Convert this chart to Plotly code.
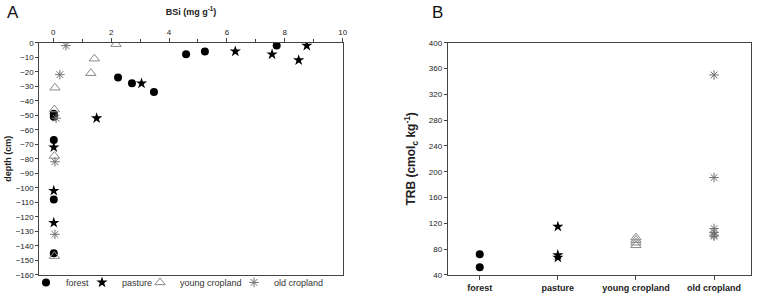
import plotly.graph_objects as go

# ---------------- Panel A data: BSi (mg g-1) vs depth (cm) ----------------
forest_bsi = [7.72, 5.24, 4.59, 2.24, 2.72, 3.48, 0.02, 0.02, 0.02, 0.02, 0.02]
forest_depth = [-2, -6, -8, -24, -28, -34, -49, -51, -67, -108, -145]

pasture_bsi = [8.76, 6.29, 7.56, 8.48, 3.05, 1.50, 0.02, 0.02, 0.02]
pasture_depth = [-2, -6, -8, -12, -28, -52, -72, -102, -124]

young_bsi = [2.17, 1.42, 1.30, 0.06, 0.04, 0.04, 0.04]
young_depth = [-1, -11, -21, -31, -46, -78, -147]

old_bsi = [0.44, 0.23, 0.10, 0.06, 0.06]
old_depth = [-2, -22, -52, -82, -132]

# ---------------- Panel B data: TRB (cmolc kg-1) ----------------
categories = ["forest", "pasture", "young cropland", "old cropland"]
trb_forest = [72, 52]
trb_pasture = [115, 71, 67]
trb_young = [86, 90, 94, 98]
trb_old = [350, 191, 112, 106, 102, 100]

x_ticks_a = [0, 2, 4, 6, 8, 10]
y_ticks_a = list(range(-160, 1, 10))
y_ticks_b = list(range(40, 401, 40))

BLACK = "#000000"
GRAY_TRI = "#8a8a8a"
GRAY_AST = "#707070"
AXIS = "#444444"
TICKFONT = dict(family="Liberation Sans, Arial", size=8, color="#222222")

fig = go.Figure()

styles = [
    ("forest", forest_bsi, forest_depth, trb_forest, dict(symbol="circle", size=8, color=BLACK)),
    ("pasture", pasture_bsi, pasture_depth, trb_pasture, dict(symbol="star", size=8.5, color=BLACK)),
    ("young cropland", young_bsi, young_depth, trb_young,
     dict(symbol="triangle-up-open", size=9, color=GRAY_TRI, line=dict(width=1, color=GRAY_TRI))),
    ("old cropland", old_bsi, old_depth, trb_old,
     dict(symbol="asterisk-open", size=8, color=GRAY_AST, line=dict(width=1, color=GRAY_AST))),
]
legend_ids = ["legend", "legend2", "legend3", "legend4"]

for i, (name, xs, ys, trb, mk) in enumerate(styles):
    fig.add_trace(go.Scatter(x=xs, y=ys, mode="markers", name=name, marker=mk,
                             xaxis="x", yaxis="y", showlegend=True, legend=legend_ids[i]))
for i, (name, xs, ys, trb, mk) in enumerate(styles):
    fig.add_trace(go.Scatter(x=[categories[i]] * len(trb), y=trb, mode="markers", name=name,
                             marker=mk, xaxis="x2", yaxis="y2", showlegend=False))

legend_x = [26 / 759, 82 / 759, 140 / 759, 234 / 759]
legend_common = dict(orientation="h", xanchor="left", y=0.098, yanchor="top",
                     font=dict(size=9, color="#333333"), itemwidth=30,
                     bgcolor="rgba(0,0,0,0)")

fig.update_layout(
    template="none",
    width=759, height=297,
    margin=dict(l=0, r=0, t=0, b=0),
    paper_bgcolor="white", plot_bgcolor="white",
    font=dict(family="Liberation Sans, Arial", color="#222222"),
    xaxis=dict(domain=[0.0518, 0.4515], range=[-0.48, 10], side="top", anchor="y", automargin=False,
               tickvals=x_ticks_a, ticks="outside", ticklen=4, tickcolor=AXIS,
               showline=True, linecolor=AXIS, linewidth=1, mirror=True,
               showgrid=False, zeroline=False, tickfont=TICKFONT,
               tickprefix="<b>", ticksuffix="</b>",
               minor=dict(dtick=1, tick0=0, ticks="outside", ticklen=3, tickcolor=AXIS, showgrid=False),
               title=dict(text="<b>BSi (mg g<sup>-1</sup>)</b>", font=dict(size=9), standoff=10)),
    yaxis=dict(domain=[0.0741, 0.8562], range=[-160, 0], anchor="x", automargin=False,
               tickvals=y_ticks_a, ticks="outside", ticklen=3, tickcolor=AXIS,
               showline=True, linecolor=AXIS, linewidth=1, mirror=True,
               showgrid=False, zeroline=False, tickfont=TICKFONT,
               tickprefix="<b>", ticksuffix="</b>",
               title=dict(text="<b>depth (cm)</b>", font=dict(size=9), standoff=2)),
    xaxis2=dict(domain=[0.5899, 0.9891], range=[-0.41, 3.47], anchor="y2", automargin=False,
                type="category", categoryorder="array", categoryarray=categories,
                ticks="outside", ticklen=4, tickcolor=AXIS,
                showline=True, linecolor=AXIS, linewidth=1, mirror=True,
                showgrid=False, zeroline=False, tickfont=dict(TICKFONT, size=9),
                tickprefix="<b>", ticksuffix="</b>"),
    yaxis2=dict(domain=[0.0741, 0.8562], range=[40, 400], anchor="x2", automargin=False,
                tickvals=y_ticks_b, ticks="outside", ticklen=3, tickcolor=AXIS,
                showline=True, linecolor=AXIS, linewidth=1, mirror=True,
                showgrid=False, zeroline=False, tickfont=TICKFONT,
                tickprefix="<b>", ticksuffix="</b>",
                title=dict(text="<b>TRB (cmol<sub>c</sub> kg<sup>-1</sup>)</b>", font=dict(size=12), standoff=10)),
    legend=dict(legend_common, x=legend_x[0]),
    legend2=dict(legend_common, x=legend_x[1]),
    legend3=dict(legend_common, x=legend_x[2]),
    legend4=dict(legend_common, x=legend_x[3]),
    annotations=[
        dict(text="A", x=0.006, y=0.995, xref="paper", yref="paper", xanchor="left", yanchor="top",
             showarrow=False, font=dict(size=17, color="#111111")),
        dict(text="B", x=0.567, y=0.995, xref="paper", yref="paper", xanchor="left", yanchor="top",
             showarrow=False, font=dict(size=17, color="#111111")),
    ],
)

fig.write_html("out.html", config={"displayModeBar": False},
               post_script="document.body.style.margin='0';")
